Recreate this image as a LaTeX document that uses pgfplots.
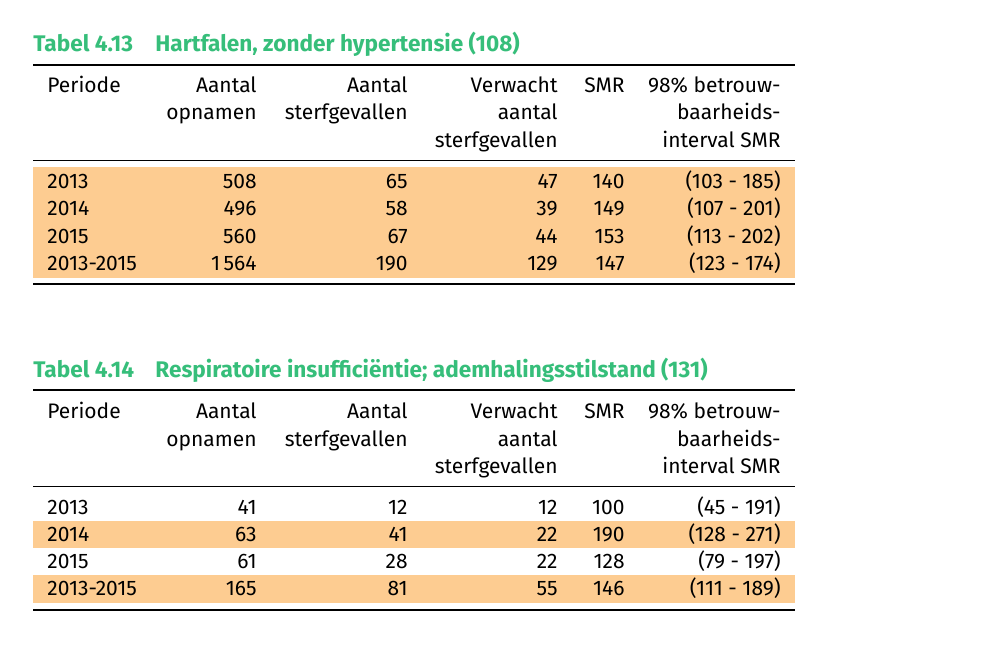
\documentclass[border=0pt]{standalone}
\usepackage{pgfplots}
\pgfplotsset{compat=1.18}
\usepackage{fontspec}
\setmainfont{Fira Sans}
\definecolor{titlegreen}{RGB}{54,190,122}
\definecolor{bandorange}{RGB}{253,204,145}
\tikzset{every node/.append style={inner sep=0pt, yshift=-1pt, font=\fontsize{10.5}{12}\selectfont}}
\newcommand\hdr[3]{%
  \node[anchor=mid west] at (axis cs:47,#1) {Periode};
  \node[anchor=mid east] at (axis cs:257,#1) {Aantal};
  \node[anchor=mid east] at (axis cs:257,#2) {opnamen};
  \node[anchor=mid east] at (axis cs:408,#1) {Aantal};
  \node[anchor=mid east] at (axis cs:408,#2) {sterfgevallen};
  \node[anchor=mid east] at (axis cs:558,#1) {Verwacht};
  \node[anchor=mid east] at (axis cs:558,#2) {aantal};
  \node[anchor=mid east] at (axis cs:558,#3) {sterfgevallen};
  \node[anchor=mid east] at (axis cs:625,#1) {SMR};
  \node[anchor=mid east] at (axis cs:781,#1) {98\% betrouw-};
  \node[anchor=mid east] at (axis cs:781,#2) {baarheids-};
  \node[anchor=mid east] at (axis cs:781,#3) {interval SMR};
}
\newcommand\row[7]{%
  \node[anchor=mid west] at (axis cs:47,#1) {#2};
  \node[anchor=mid east] at (axis cs:257,#1) {#3};
  \node[anchor=mid east] at (axis cs:408,#1) {#4};
  \node[anchor=mid east] at (axis cs:558,#1) {#5};
  \node[anchor=mid east] at (axis cs:625,#1) {#6};
  \node[anchor=mid east] at (axis cs:781,#1) {#7};
}
\begin{document}
\begin{tikzpicture}
\begin{axis}[
  width=493pt, height=325pt, scale only axis,
  xmin=0, xmax=986, ymin=0, ymax=650, y dir=reverse,
  hide axis, clip=false,
]
% invisible frame for the bounding box
\addplot[draw=none] coordinates {(0,0) (986,650)};
% orange bands
\addplot[fill=bandorange, draw=none] coordinates {(33,167) (795,167) (795,278) (33,278)} --cycle;
\addplot[fill=bandorange, draw=none] coordinates {(33,521) (795,521) (795,548) (33,548)} --cycle;
\addplot[fill=bandorange, draw=none] coordinates {(33,575) (795,575) (795,603) (33,603)} --cycle;
% rules
\addplot[black, line width=1pt] coordinates {(33,65) (795,65)};
\addplot[black, line width=0.4pt] coordinates {(33,160) (795,160)};
\addplot[black, line width=1pt] coordinates {(33,284) (795,284)};
\addplot[black, line width=1pt] coordinates {(33,390) (795,390)};
\addplot[black, line width=0.4pt] coordinates {(33,486) (795,486)};
\addplot[black, line width=1pt] coordinates {(33,610) (795,610)};

% titles
\node[anchor=mid west, font=\fontsize{11.3}{13}\selectfont\bfseries, text=titlegreen] at (axis cs:33,44) {Tabel 4.13};
\node[anchor=mid west, font=\fontsize{11.3}{13}\selectfont\bfseries, text=titlegreen] at (axis cs:155,44) {Hartfalen, zonder hypertensie (108)};
\node[anchor=mid west, font=\fontsize{11.3}{13}\selectfont\bfseries, text=titlegreen] at (axis cs:33,370) {Tabel 4.14};
\node[anchor=mid west, font=\fontsize{11.3}{13}\selectfont\bfseries, text=titlegreen] at (axis cs:155,370) {Respiratoire insufficiëntie; ademhalingsstilstand (131)};

\hdr{85}{112}{140}
\hdr{411}{439}{466}

\row{181}{2013}{508}{65}{47}{140}{(103 - 185)}
\row{208}{2014}{496}{58}{39}{149}{(107 - 201)}
\row{236}{2015}{560}{67}{44}{153}{(113 - 202)}
\row{263}{2013-2015}{1\,564}{190}{129}{147}{(123 - 174)}
\row{507}{2013}{41}{12}{12}{100}{(45 - 191)}
\row{534}{2014}{63}{41}{22}{190}{(128 - 271)}
\row{561}{2015}{61}{28}{22}{128}{(79 - 197)}
\row{588}{2013-2015}{165}{81}{55}{146}{(111 - 189)}
\end{axis}
\end{tikzpicture}
\end{document}
